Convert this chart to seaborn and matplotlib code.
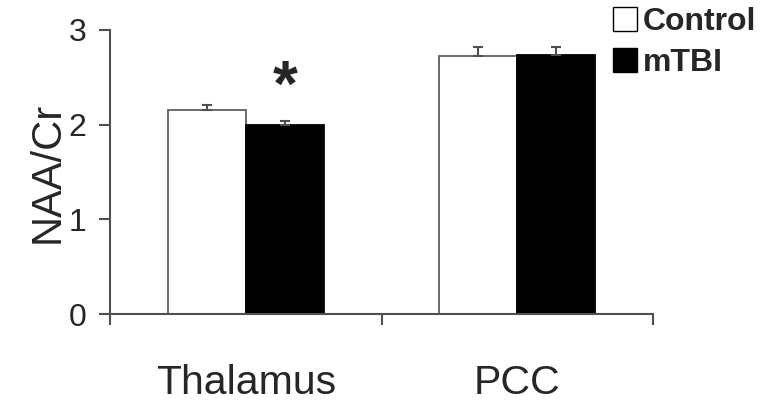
import pandas as pd
import matplotlib
matplotlib.use("Agg")
import matplotlib.pyplot as plt
import seaborn as sns
from matplotlib.patches import Patch

regions = ["Thalamus", "PCC"]
groups = ["Control", "mTBI"]
control_vals = [2.15, 2.73]
mtbi_vals = [2.00, 2.74]
control_err = [0.055, 0.09]
mtbi_err = [0.035, 0.08]

df = pd.DataFrame({
    "Region": regions * 2,
    "Group": [groups[0]] * 2 + [groups[1]] * 2,
    "NAA/Cr": control_vals + mtbi_vals,
})
errs = control_err + mtbi_err

sns.set_style("white")
plt.rcParams["font.family"] = ["Liberation Sans", "DejaVu Sans"]

fig = plt.figure(figsize=(7.62, 4.03), dpi=100)
ax = fig.add_axes([0.1444, 0.2208, 0.7126, 0.7048])

sns.barplot(data=df, x="Region", y="NAA/Cr", hue="Group", order=regions,
            hue_order=groups, palette=["white", "black"], width=0.575,
            errorbar=None, legend=False, ax=ax)

# style bars and put upper error bars on them
for bar in ax.patches:
    if bar.get_facecolor()[0] > 0.5:
        bar.set_edgecolor("#606060")
    else:
        bar.set_edgecolor("black")
    bar.set_linewidth(1.3)

bars = sorted(ax.patches, key=lambda b: b.get_x())
order = [0, 2, 1, 3]  # thal ctrl, thal mtbi, pcc ctrl, pcc mtbi -> df index
for bar, i in zip(bars, order):
    xc = bar.get_x() + bar.get_width() / 2
    ax.errorbar(xc, bar.get_height(), yerr=[[0], [errs[i]]], color="#505050",
                capsize=3.5, elinewidth=1.5, capthick=1.5, fmt="none")

ax.set_ylim(0, 3)
ax.set_xlim(-0.5, 1.5)
ax.set_yticks([0, 1, 2, 3])
ax.set_xticks([0, 1])
ax.set_xticks([-0.5, 0.5, 1.5], minor=True)
ax.tick_params(axis="x", which="major", length=0, labelsize=29.5, pad=36)
ax.tick_params(axis="x", which="minor", length=8, width=1.5, color="#505050",
               direction="out", bottom=True)
ax.tick_params(axis="y", length=8, width=1.5, color="#505050", direction="out",
               left=True, labelsize=23, pad=9)
ax.set_xlabel("")
ax.set_ylabel("NAA/Cr", fontsize=30, labelpad=1)

sns.despine(ax=ax)
for s in ["left", "bottom"]:
    ax.spines[s].set_color("#505050")
    ax.spines[s].set_linewidth(1.5)

# significance marker
ax.text(0.145, 2.38, "*", ha="center", va="center", fontsize=46,
        fontweight="bold")

handles = [Patch(facecolor="white", edgecolor="black", label="Control"),
           Patch(facecolor="black", edgecolor="black", label="mTBI")]
fig.legend(handles=handles, loc="upper right", bbox_to_anchor=(1.018, 1.03),
           frameon=False, prop={"size": 23, "weight": "bold"},
           handlelength=0.75, handleheight=0.75, handletextpad=0.2,
           labelspacing=0.35, borderaxespad=0.2)

fig.savefig("out.png", dpi=100)
